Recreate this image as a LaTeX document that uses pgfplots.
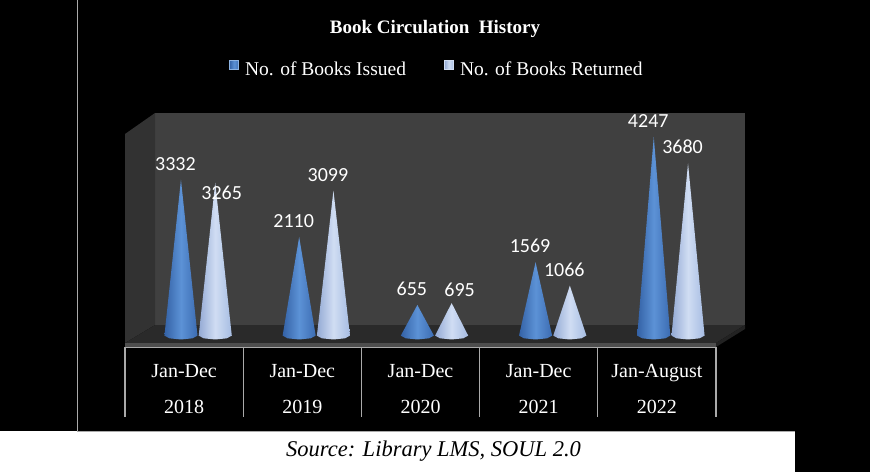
\documentclass[border=0pt]{standalone}
\usepackage{pgfplots}
\pgfplotsset{compat=1.18}
\usepackage{fontspec}
\setmainfont{Liberation Serif}
\newfontfamily\carlito{Carlito}
\definecolor{issL}{RGB}{52,98,166}
\definecolor{issM}{RGB}{92,146,214}
\definecolor{issR}{RGB}{60,108,178}
\definecolor{retL}{RGB}{148,170,212}
\definecolor{retM}{RGB}{208,221,243}
\definecolor{retR}{RGB}{166,188,226}
\definecolor{backwall}{RGB}{64,64,64}
\definecolor{sidewall}{RGB}{50,50,50}
\definecolor{floorc}{RGB}{42,42,42}
\definecolor{edgec}{RGB}{78,78,78}
\definecolor{linec}{RGB}{170,170,170}
\begin{document}
\begin{tikzpicture}[x=1pt,y=1pt]
\useasboundingbox (0,0) rectangle (870,472);
% background
\fill[black] (0,0) rectangle (870,472);
\fill[white] (0,0) rectangle (795,41);
\draw[linec,line width=0.8pt] (77,472) -- (77,41) -- (795,41);
% 3D box
\fill[backwall] (155,147) rectangle (745,359);
\fill[sidewall] (125,129) -- (125,338) -- (155,359) -- (155,147) -- cycle;
\fill[floorc] (125,129) -- (155,147) -- (745,147) -- (716,129) -- cycle;
\fill[edgec] (125,125) rectangle (716,129);
\fill[floorc!80!black] (716,125) -- (716,129) -- (745,147) -- (745,143) -- cycle;
\draw[linec,line width=1pt] (125,125) -- (716,125);
\foreach \xx in {125,243.2,361.4,479.6,597.8,716}{\draw[linec,line width=1.2pt] (\xx,125) -- (\xx,55);}
\begin{axis}[
  at={(139pt,136.4pt)}, anchor=south west,
  scale only axis, width=591pt, height=222.6pt,
  xmin=-0.5, xmax=4.5, ymin=0, ymax=4756,
  clip=false,
  axis line style={draw=none}, tick style={draw=none}, major tick length=0pt,
  ytick=\empty,
  xtick={0,1,2,3,4},
  xticklabels={{Jan-Dec\\2018},{Jan-Dec\\2019},{Jan-Dec\\2020},{Jan-Dec\\2021},{Jan-August\\2022}},
  xticklabel style={align=center, text=white, font=\fontsize{20}{36}\selectfont, anchor=north, inner sep=0pt, xshift=-14pt, yshift=-28.2pt},
  title={\textbf{Book Circulation\ \ History}},
  every axis title shift/.style={yshift=0pt},
  title style={at={(0.5008,1.330)}, anchor=base, inner sep=0pt, text=white, font=\fontsize{19}{22}\selectfont},
  legend columns=2,
  legend style={at={(0.504,1.198)}, anchor=center, draw=none, fill=none, text=white,
    font=\fontsize{19.5}{22}\selectfont, inner sep=0pt,
    /tikz/every even column/.append style={column sep=36pt}},
  every node near coord/.append style={text=white, font=\carlito\fontsize{20}{24}\selectfont, anchor=base, inner sep=0pt, xshift=-5.5pt, yshift=9.5pt},
  issued/.style={draw=none, left color=issL, right color=issR, middle color=issM,
    legend image code/.code={\path[fill=issL, draw=issM!70!white, line width=0.8pt] (0.4pt,-0.6pt) rectangle (9.6pt,8.6pt); \path (14pt,0pt);}},
  returned/.style={draw=none, left color=retL, right color=retR, middle color=retM,
    legend image code/.code={\path[fill=retL, draw=retM, line width=0.8pt] (0.4pt,-0.6pt) rectangle (9.6pt,8.6pt); \path (14pt,0pt);}},
]
% cones: Issued / Returned
\addplot[issued] coordinates {(-0.285,0) (-0.145,3332) (-0.005,0) (-0.047,-58) (-0.145,-83) (-0.243,-58)} -- cycle;
\addlegendentry{No. of Books Issued}
\addplot[returned] coordinates {(0.005,0) (0.145,3265) (0.285,0) (0.243,-58) (0.145,-83) (0.047,-58)} -- cycle;
\addlegendentry{No. of Books Returned}
\addplot[forget plot, issued] coordinates {(0.715,0) (0.855,2110) (0.995,0) (0.953,-58) (0.855,-83) (0.757,-58)} -- cycle;
\addplot[forget plot, returned] coordinates {(1.005,0) (1.145,3099) (1.285,0) (1.243,-58) (1.145,-83) (1.047,-58)} -- cycle;
\addplot[forget plot, issued] coordinates {(1.715,0) (1.855,655) (1.995,0) (1.953,-58) (1.855,-83) (1.757,-58)} -- cycle;
\addplot[forget plot, returned] coordinates {(2.005,0) (2.145,695) (2.285,0) (2.243,-58) (2.145,-83) (2.047,-58)} -- cycle;
\addplot[forget plot, issued] coordinates {(2.715,0) (2.855,1569) (2.995,0) (2.953,-58) (2.855,-83) (2.757,-58)} -- cycle;
\addplot[forget plot, returned] coordinates {(3.005,0) (3.145,1066) (3.285,0) (3.243,-58) (3.145,-83) (3.047,-58)} -- cycle;
\addplot[forget plot, issued] coordinates {(3.715,0) (3.855,4247) (3.995,0) (3.953,-58) (3.855,-83) (3.757,-58)} -- cycle;
\addplot[forget plot, returned] coordinates {(4.005,0) (4.145,3680) (4.285,0) (4.243,-58) (4.145,-83) (4.047,-58)} -- cycle;
% value labels
\addplot[forget plot, draw=none, mark=none, nodes near coords, point meta=explicit symbolic] coordinates {
  (-0.145,3332) [3332] (0.855,2110) [2110] (1.145,3099) [3099] (1.855,655) [655]
  (2.855,1569) [1569] (3.145,1066) [1066] (3.855,4247) [4247] (4.145,3680) [3680]};
\addplot[forget plot, draw=none, mark=none, nodes near coords, point meta=explicit symbolic,
  every node near coord/.append style={xshift=12pt, yshift=-26pt}] coordinates {(0.145,3265) [3265]};
\addplot[forget plot, draw=none, mark=none, nodes near coords, point meta=explicit symbolic,
  every node near coord/.append style={xshift=13.5pt, yshift=-2.5pt}] coordinates {(2.145,695) [695]};
\end{axis}
\node[anchor=base, font=\itshape\fontsize{22.5}{26}\selectfont, text=black, inner sep=0pt] at (433.5,16) {Source: Library LMS, SOUL 2.0};
\end{tikzpicture}
\end{document}
